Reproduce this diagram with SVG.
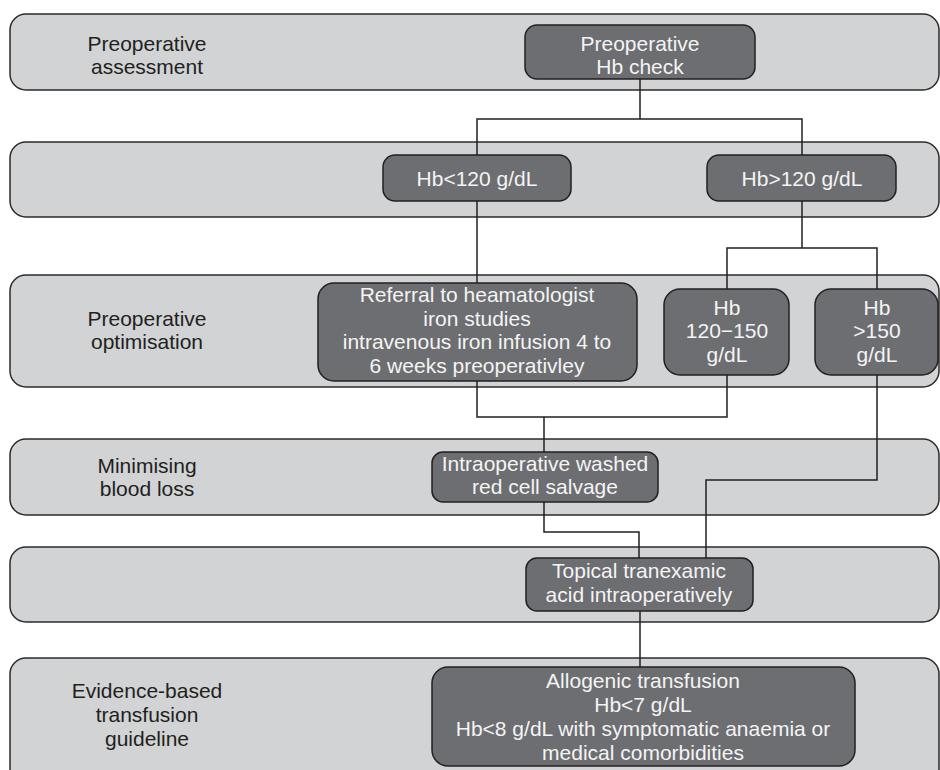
<svg xmlns="http://www.w3.org/2000/svg" width="940" height="770" viewBox="0 0 940 770">
<style>
.band{fill:#d1d3d4;stroke:#2b2b2b;stroke-width:1.5}
.box{fill:#6d6e71;stroke:#231f20;stroke-width:1.5}
.lbl{font-family:"Liberation Sans",Arial,sans-serif;font-size:21px;fill:#231f20;text-anchor:middle}
.bt{font-family:"Liberation Sans",Arial,sans-serif;font-size:21px;fill:#f4f4f4;text-anchor:middle}
.con{fill:none;stroke:#231f20;stroke-width:1.5}
</style>
<rect width="940" height="770" fill="#ffffff"/>
<g id="bands">
<rect class="band" x="10" y="14" width="929" height="76" rx="16"/>
<rect class="band" x="10" y="142" width="929" height="75" rx="16"/>
<rect class="band" x="10" y="275" width="929" height="112" rx="16"/>
<rect class="band" x="10" y="439" width="929" height="76" rx="16"/>
<rect class="band" x="10" y="547" width="929" height="75" rx="16"/>
<rect class="band" x="10" y="658" width="929" height="130" rx="16"/>
</g>
<g id="labels">
<text class="lbl" x="147" y="51">Preoperative</text>
<text class="lbl" x="147" y="74">assessment</text>
<text class="lbl" x="147" y="326">Preoperative</text>
<text class="lbl" x="147" y="349">optimisation</text>
<text class="lbl" x="147" y="473">Minimising</text>
<text class="lbl" x="147" y="496">blood loss</text>
<text class="lbl" x="147" y="698">Evidence-based</text>
<text class="lbl" x="147" y="722">transfusion</text>
<text class="lbl" x="147" y="746">guideline</text>
</g>
<g id="connectors">
<path class="con" d="M640,79 V119"/>
<path class="con" d="M477,155 V119 H802 V155"/>
<path class="con" d="M477,201 V283"/>
<path class="con" d="M802,201 V248"/>
<path class="con" d="M727,289 V248 H877 V289"/>
<path class="con" d="M477,381 V417 H727 V375"/>
<path class="con" d="M544,417 V452"/>
<path class="con" d="M877,375 V480 H706 V558"/>
<path class="con" d="M544,502 V532 H639 V558"/>
<path class="con" d="M640,611 V667"/>
</g>
<g id="hb-check">
<rect class="box" x="525" y="25" width="230" height="54" rx="12"/>
<text class="bt" x="640" y="51">Preoperative</text>
<text class="bt" x="640" y="74">Hb check</text>
</g>
<g id="hb-low">
<rect class="box" x="383" y="155" width="188" height="46" rx="12"/>
<text class="bt" x="477" y="186">Hb&lt;120 g/dL</text>
</g>
<g id="hb-high">
<rect class="box" x="707" y="155" width="189" height="46" rx="12"/>
<text class="bt" x="802" y="186">Hb&gt;120 g/dL</text>
</g>
<g id="referral">
<rect class="box" x="318" y="283" width="319" height="98" rx="16"/>
<text class="bt" x="477" y="302">Referral to heamatologist</text>
<text class="bt" x="477" y="326">iron studies</text>
<text class="bt" x="477" y="349">intravenous iron infusion 4 to</text>
<text class="bt" x="477" y="373">6 weeks preoperativley</text>
</g>
<g id="hb-mid">
<rect class="box" x="664" y="289" width="125" height="86" rx="16"/>
<text class="bt" x="727" y="315">Hb</text>
<text class="bt" x="727" y="338">120−150</text>
<text class="bt" x="727" y="362">g/dL</text>
</g>
<g id="hb-top">
<rect class="box" x="815" y="289" width="123" height="86" rx="16"/>
<text class="bt" x="877" y="315">Hb</text>
<text class="bt" x="877" y="338">&gt;150</text>
<text class="bt" x="877" y="362">g/dL</text>
</g>
<g id="salvage">
<rect class="box" x="432" y="452" width="226" height="50" rx="11"/>
<text class="bt" x="545" y="471">Intraoperative washed</text>
<text class="bt" x="545" y="494">red cell salvage</text>
</g>
<g id="tranexamic">
<rect class="box" x="526" y="558" width="227" height="53" rx="11"/>
<text class="bt" x="639" y="578">Topical tranexamic</text>
<text class="bt" x="639" y="602">acid intraoperatively</text>
</g>
<g id="transfusion">
<rect class="box" x="432" y="667" width="423" height="99" rx="16"/>
<text class="bt" x="643" y="688">Allogenic transfusion</text>
<text class="bt" x="643" y="712">Hb&lt;7 g/dL</text>
<text class="bt" x="643" y="736">Hb&lt;8 g/dL with symptomatic anaemia or</text>
<text class="bt" x="643" y="760">medical comorbidities</text>
</g>
</svg>
